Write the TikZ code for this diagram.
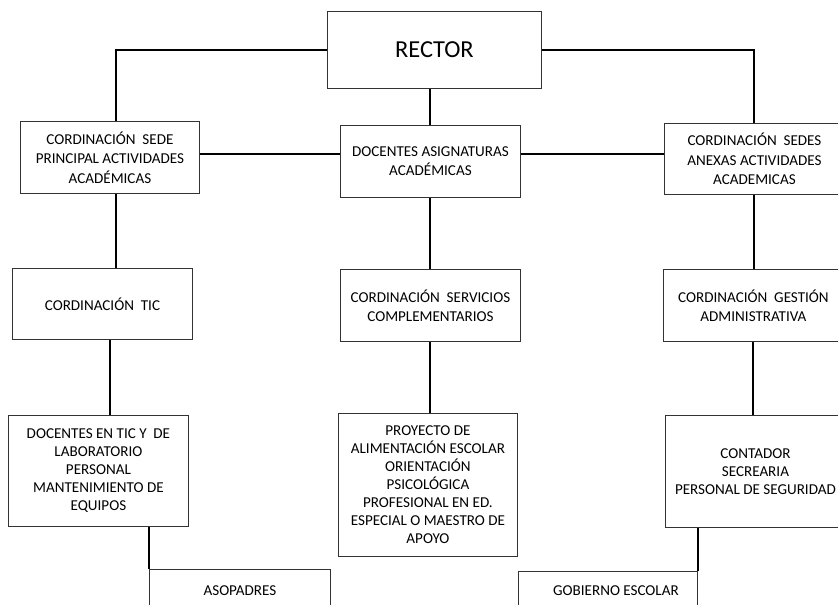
\documentclass[tikz,border=0pt]{standalone}
\usepackage{fontspec}
\setmainfont{Carlito}
\tikzstyle{OrgBox}=[rectangle, draw=black!80, line width=0.9pt, anchor=north west, align=center, inner sep=1pt, minimum width=180pt, font=\fontsize{15.1}{18}\selectfont]
\tikzstyle{TopBox}=[OrgBox, font=\fontsize{15.1}{19.3}\selectfont]
\tikzstyle{Link}=[line width=2pt]

\begin{document}
\begin{tikzpicture}[x=1pt, y=-1pt]

    \useasboundingbox (0,0) rectangle (838,605);
    \clip (0,0) rectangle (838,605);

    \node (Rector) [OrgBox, minimum width=214pt, minimum height=77pt, font=\fontsize{24.4}{28}\selectfont] at (327,11) {RECTOR};
    \node (SedePrincipal) [TopBox, minimum width=179pt, minimum height=72pt] at (20,121) {CORDINACIÓN~ SEDE\\ PRINCIPAL ACTIVIDADES\\ ACADÉMICAS};
    \node (DocAsig) [TopBox, minimum height=72pt] at (340,125) {DOCENTES ASIGNATURAS\\ ACADÉMICAS};
    \node (SedesAnexas) [TopBox, minimum height=71pt] at (664,123) {CORDINACIÓN~ SEDES\\ ANEXAS ACTIVIDADES\\ ACADEMICAS};

    \node (CordTIC) [TopBox, minimum height=71pt] at (12,268) {CORDINACIÓN~ TIC};
    \node (CordServ) [TopBox, minimum height=72pt] at (340,269) {CORDINACIÓN~ SERVICIOS\\ COMPLEMENTARIOS};
    \node (CordGestion) [TopBox, minimum height=72pt] at (663,269) {CORDINACIÓN~ GESTIÓN\\ ADMINISTRATIVA};

    \node (DocTIC) [OrgBox, minimum height=111pt] at (8,415) {DOCENTES EN TIC Y~ DE\\ LABORATORIO\\ PERSONAL\\ MANTENIMIENTO DE\\ EQUIPOS};
    \node (Proyecto) [OrgBox, minimum width=179pt, minimum height=143pt] at (338,413) {PROYECTO DE\\ ALIMENTACIÓN ESCOLAR\\ ORIENTACIÓN\\ PSICOLÓGICA\\ PROFESIONAL EN ED.\\ ESPECIAL O MAESTRO DE\\ APOYO};
    \node (Contador) [OrgBox, minimum height=112pt] at (665,415) {CONTADOR\\ SECREARIA\\ PERSONAL DE SEGURIDAD};

    \node (Asopadres) [OrgBox, minimum width=181pt, minimum height=42pt] at (149,569) {ASOPADRES};
    \node (Gobierno) [OrgBox, minimum width=179pt, minimum height=38pt] at (518,571) {\hspace*{16pt}GOBIERNO ESCOLAR};

    \coordinate (MidRow) at ([yshift=3pt]SedePrincipal.east);

    \draw [Link] (Rector.west) -| ([xshift=6pt]SedePrincipal.north);
    \draw [Link] (Rector.east) -| (SedesAnexas.north);
    \draw [Link] (DocAsig.north |- Rector.south) -- (DocAsig.north);
    \draw [Link] (MidRow) -- (MidRow -| DocAsig.west);
    \draw [Link] (DocAsig.east |- MidRow) -- (MidRow -| SedesAnexas.west);

    \draw [Link] ([xshift=6pt]SedePrincipal.south) -- ([xshift=6pt]SedePrincipal.south |- CordTIC.north);
    \draw [Link] ([xshift=8pt]CordTIC.south) -- ([xshift=8pt]CordTIC.south |- DocTIC.north);
    \draw [Link] (Asopadres.north west) -- (Asopadres.north west |- DocTIC.south);

    \draw [Link] (DocAsig.south) -- (DocAsig.south |- CordServ.north);
    \draw [Link] (CordServ.south) -- (CordServ.south |- Proyecto.north);

    \draw [Link] (SedesAnexas.south) -- (SedesAnexas.south |- CordGestion.north);
    \draw [Link] (CordGestion.south) -- (CordGestion.south |- Contador.north);
    \draw [Link] (Gobierno.north east) -- (Gobierno.north east |- Contador.south);

\end{tikzpicture}
\end{document}
